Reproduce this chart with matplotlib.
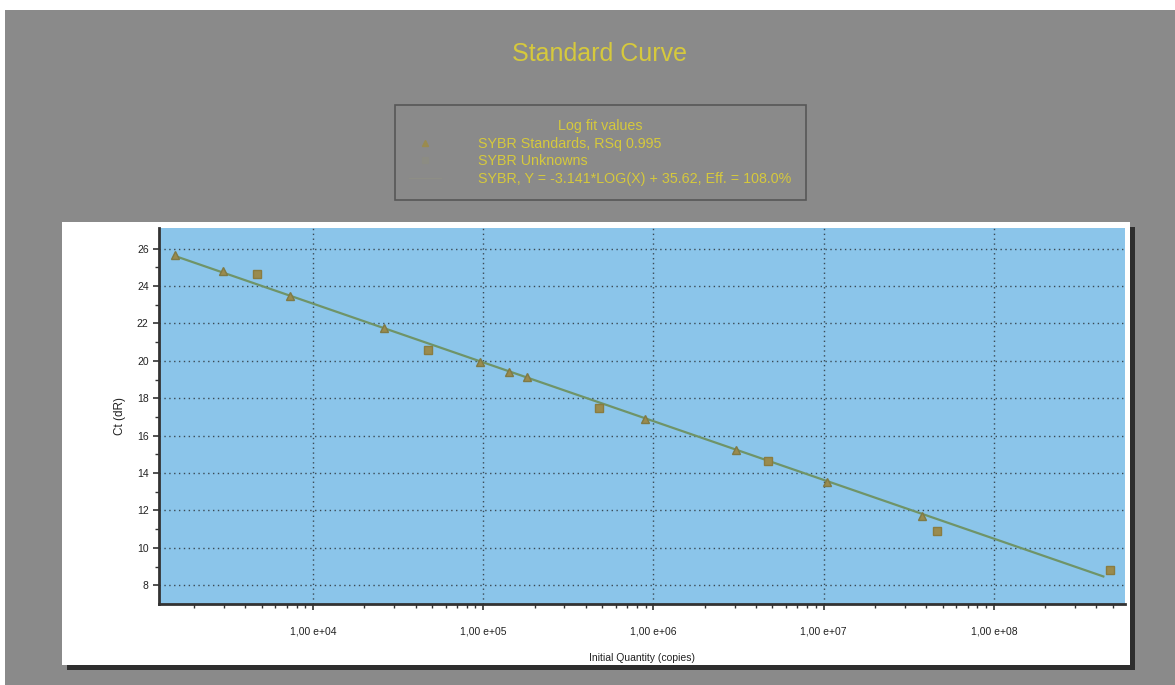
import numpy as np
import matplotlib
matplotlib.use('Agg')
import matplotlib.pyplot as plt
from matplotlib.patches import Rectangle
from matplotlib.lines import Line2D
from matplotlib.ticker import LogLocator, FixedLocator, FuncFormatter

plt.rcParams['font.family'] = ['Liberation Sans', 'DejaVu Sans']

# standards (triangles): log10 quantity and Ct
std_logq = [3.19, 3.47, 3.865, 4.414, 4.982, 5.149, 5.257, 5.953, 6.482, 7.02, 7.58]
std_ct = [25.65, 24.8, 23.46, 21.74, 19.96, 19.42, 19.12, 16.9, 15.24, 13.5, 11.72]
# unknowns (squares)
unk_logq = [3.669, 4.678, 5.678, 6.672, 7.668, 8.679]
unk_ct = [24.64, 20.58, 17.47, 14.62, 10.88, 8.8]
# fit from the legend text
slope = -3.141
intercept = 35.62
eff = '108.0%'
rsq = '0.995'

std_q = 10 ** np.array(std_logq)
unk_q = 10 ** np.array(unk_logq)

W, H = 1175, 685
fig = plt.figure(figsize=(W / 100, H / 100), dpi=100, facecolor='white')

gray = '#8a8a8a'
yellow = '#d6c93c'
mark_col = '#9a8b4e'
line_col = '#6f9468'

# gray page, white chart panel with dark shadow
fig.patches.append(Rectangle((5 / W, 0), 1, 1 - 10 / H, transform=fig.transFigure,
                             facecolor=gray, edgecolor='none', zorder=-3))
fig.patches.append(Rectangle((67 / W, 1 - 670 / H), 1068 / W, 443 / H, transform=fig.transFigure,
                             facecolor='#2e2e2e', edgecolor='none', zorder=-2))
fig.patches.append(Rectangle((62 / W, 1 - 665 / H), 1068 / W, 443 / H, transform=fig.transFigure,
                             facecolor='white', edgecolor='none', zorder=-1))

fig.text(600 / W, 1 - 54 / H, 'Standard Curve', color=yellow, fontsize=18,
         ha='center', va='center')

ax = fig.add_axes([159 / W, 1 - 604 / H, (1125 - 159) / W, (604 - 228) / H])
ax.set_facecolor('#8bc5ea')
ax.set_xscale('log')
ax.set_xlim(10 ** 3.095, 10 ** 8.77)
ax.set_ylim(7.0, 27.1)

qline = np.array([std_q.min(), unk_q.max() * 0.92])
ax.plot(qline, slope * np.log10(qline) + intercept, color=line_col, lw=1.6, zorder=3)
ax.plot(std_q, std_ct, linestyle='none', marker='^', ms=6, color=mark_col,
        markeredgecolor='#7f7a45', zorder=4)
ax.plot(unk_q, unk_ct, linestyle='none', marker='s', ms=6, color=mark_col,
        markeredgecolor='#8a7c40', zorder=4)

ax.yaxis.set_major_locator(FixedLocator(np.arange(8, 27, 2)))
ax.yaxis.set_minor_locator(FixedLocator(np.arange(9, 27, 2)))
ax.xaxis.set_major_locator(LogLocator(base=10, numticks=12))
ax.xaxis.set_minor_locator(LogLocator(base=10, subs=np.arange(2, 10), numticks=12))
ax.xaxis.set_major_formatter(FuncFormatter(lambda v, p: '1,00 e+%02d' % round(np.log10(v))))
ax.xaxis.set_minor_formatter(FuncFormatter(lambda v, p: ''))

ax.grid(True, which='major', linestyle=(0, (1, 2.5)), color='#3a4a55', lw=1.0)
for s in ['top', 'right']:
    ax.spines[s].set_visible(False)
for s in ['left', 'bottom']:
    ax.spines[s].set_color('#333333')
    ax.spines[s].set_linewidth(2)
ax.tick_params(which='both', direction='out', color='#333333', labelsize=7.5,
               labelcolor='#222222')
ax.tick_params(which='major', length=4, width=1.2)
ax.tick_params(which='minor', length=3, width=1.0)
ax.tick_params(axis='x', pad=12)

ax.set_xlabel('Initial Quantity (copies)', fontsize=7.5, color='#222222', labelpad=12)
ax.set_ylabel('Ct (dR)', fontsize=8.5, color='#222222', labelpad=8)

handles = [
    Line2D([], [], linestyle='none', marker='^', ms=5, color=mark_col),
    Line2D([], [], linestyle='none', marker='s', ms=5, color='#8e8e80', alpha=0.5),
    Line2D([], [], color='#8e8e86', lw=1),
]
labels = [
    'SYBR Standards, RSq ' + rsq,
    'SYBR Unknowns',
    'SYBR, Y = %.3f*LOG(X) + %.2f, Eff. = %s' % (slope, intercept, eff),
]
leg = fig.legend(handles, labels, title='Log fit values', loc='upper left',
                 bbox_to_anchor=(395 / W, 1 - 105 / H), fontsize=10.3, title_fontsize=10.3,
                 frameon=True, fancybox=False, facecolor=gray, edgecolor='#4a4a4a',
                 handlelength=2.2, handletextpad=2.6, labelspacing=0.25,
                 borderpad=1.0, borderaxespad=0)
for t in leg.get_texts():
    t.set_color(yellow)
leg.get_title().set_color(yellow)
leg.get_frame().set_linewidth(1.2)

fig.savefig('out.png', dpi=100, facecolor='white')
